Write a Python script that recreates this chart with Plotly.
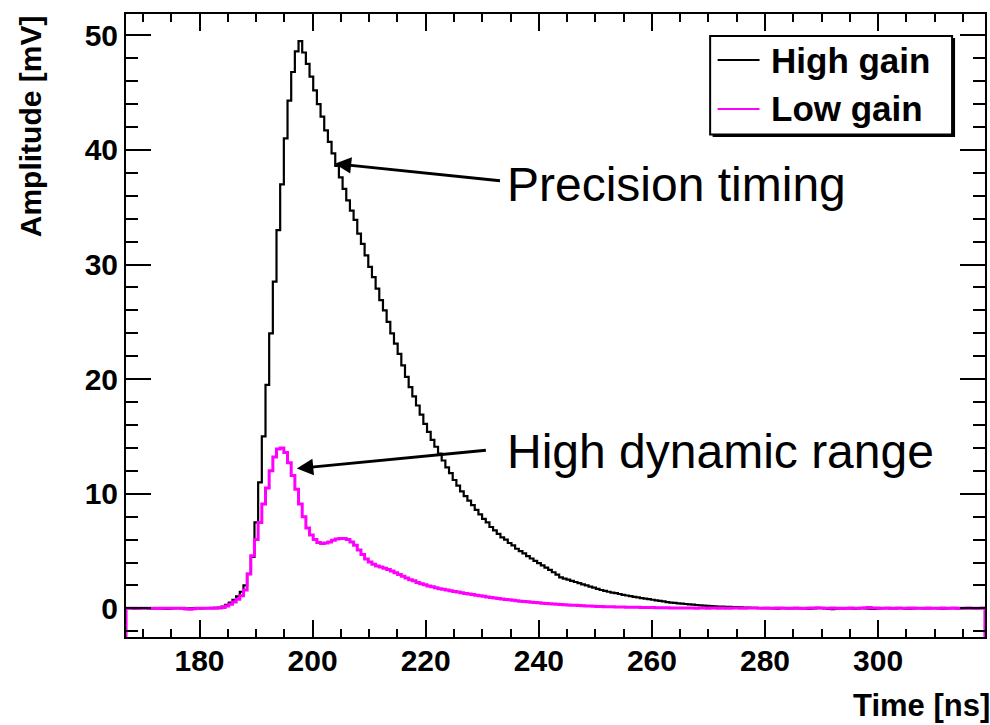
import plotly.graph_objects as go

# ---------------- data ----------------
X_MIN, X_MAX = 167.0, 318.9          # time axis range [ns]
Y_MIN, Y_MAX = -2.5, 51.86           # amplitude axis range [mV]

# High gain amplitude per time bin [mV] (234 bins spanning X_MIN..X_MAX)
high_gain = [
    0.02, 0.01, -0.02, 0.0, 0.03, 0.01, -0.02, -0.01, 0.02, 0.0,
    -0.03, -0.04, 0.0, 0.02, 0.01, -0.01, -0.03, 0.0, 0.02, 0.01,
    0.0, 0.02, 0.03, 0.02, 0.04,
    0.07, 0.15, 0.3, 0.5, 0.75, 1.05, 1.45, 2.0, 3.0, 4.5,
    7.5, 11.0, 15.0, 19.5, 24.0, 28.5, 33.0, 37.0, 41.0, 44.3,
    46.8, 48.6, 49.5,
    48.5, 47.5, 46.4, 45.2, 44.0, 42.9, 41.7, 40.7, 39.7, 38.6,
    37.6, 36.6, 35.6, 34.7, 33.9, 32.7, 31.8, 30.8, 29.8, 28.9,
    27.9, 26.9, 26.0, 25.0, 24.0, 23.1,
    22.2, 21.2, 20.2, 19.3, 18.5, 17.7, 16.9, 16.1, 15.4, 14.7,
    14.1, 13.5, 12.9, 12.3, 11.8, 11.2, 10.7, 10.2, 9.8, 9.4,
    9.0, 8.6, 8.2, 7.8, 7.5, 7.1, 6.8, 6.5, 6.2, 6.0,
    5.7, 5.5, 5.2, 5.0, 4.8, 4.55, 4.35, 4.15, 3.95, 3.75,
    3.55, 3.35, 3.15, 2.95, 2.7, 2.6, 2.5, 2.4, 2.3, 2.2,
    2.1, 2.0, 1.9, 1.8, 1.7, 1.6, 1.52, 1.45, 1.38, 1.32,
    1.25, 1.18, 1.12, 1.06, 1.0, 0.95, 0.9, 0.85, 0.8, 0.75,
    0.7, 0.65, 0.6, 0.55, 0.5, 0.47, 0.44, 0.41, 0.38, 0.35,
    0.32, 0.29, 0.26,
    0.24, 0.22, 0.2, 0.18, 0.16, 0.15, 0.13, 0.12, 0.11, 0.1,
    0.08, 0.07, 0.06, 0.05, 0.04, 0.03, 0.02, 0.02,
    0.01, 0.0, -0.02, 0.01, 0.02, 0.0, -0.01, 0.01, 0.0, -0.03,
    -0.05, -0.02, 0.0, 0.02, 0.01, -0.01, -0.04, -0.06, -0.03, 0.0,
    0.01, 0.02, 0.0, -0.02, -0.01, 0.01, 0.0, -0.03, -0.05, -0.02,
    0.0, 0.02, 0.01, -0.01, 0.0, 0.02, 0.01, -0.02, -0.03, 0.0,
    0.01, 0.02, 0.0, -0.01, 0.01, 0.02, 0.0, -0.02, 0.0, 0.01,
    0.02, 0.0, -0.01, 0.01, 0.02, 0.01, 0.0, 0.01, 0.02,
]

# Low gain amplitude per time bin [mV]
low_gain = [
    0.0, 0.01, 0.0, -0.01, 0.01, 0.0, 0.01, 0.0, -0.01, 0.0,
    0.01, 0.0, 0.01, 0.0, 0.0, 0.01, -0.05, -0.08, -0.04, 0.0,
    0.01, 0.0, 0.01, 0.02, 0.01,
    0.03, 0.08, 0.2, 0.35, 0.55, 0.8, 1.1, 1.6, 3.0, 4.6,
    6.0, 7.5, 9.1, 10.5, 12.0, 13.2, 13.9, 14.0, 13.6, 12.7,
    11.6, 10.4, 9.1, 8.0, 7.0, 6.4, 6.0, 5.75, 5.65, 5.7,
    5.8, 5.95, 6.05, 6.1, 6.1, 6.0, 5.8, 5.5, 5.1, 4.7,
    4.3, 4.05, 3.85, 3.7, 3.6, 3.5, 3.4, 3.25, 3.1, 2.95,
    2.8, 2.65, 2.5, 2.4, 2.25, 2.15, 2.05, 1.95, 1.88, 1.8,
    1.72, 1.66, 1.6, 1.54, 1.48, 1.42, 1.36, 1.3, 1.25, 1.2,
    1.15, 1.1, 1.05,
    0.98, 0.94, 0.9, 0.86, 0.82, 0.78, 0.74, 0.7, 0.66, 0.63,
    0.6, 0.57, 0.54, 0.51, 0.48, 0.45, 0.43, 0.4, 0.38, 0.36,
    0.34, 0.32, 0.3, 0.28, 0.26, 0.24, 0.22, 0.21, 0.2, 0.18,
    0.17, 0.16, 0.15, 0.14, 0.13, 0.12, 0.12, 0.11, 0.1, 0.1,
    0.09, 0.09, 0.08,
    0.08, 0.07, 0.07, 0.06, 0.06, 0.05, 0.05, 0.04, 0.04, 0.03,
    0.03, 0.02, 0.04, 0.02, 0.01, 0.03, 0.02, 0.0, 0.02, 0.03,
    0.01, 0.02, 0.0, 0.01, 0.03, 0.02, 0.01, 0.0, 0.02, 0.04,
    0.02, 0.01, 0.0, 0.02, 0.01, 0.0, 0.02, 0.03, 0.01, 0.0,
    0.01, 0.02, 0.0, -0.01, 0.01, 0.02, 0.04, 0.06, 0.03, 0.01,
    0.0, 0.02, 0.01, 0.0, -0.01, 0.01, 0.02, 0.0, 0.01, 0.03,
    0.05, 0.07, 0.04, 0.02, 0.0, 0.01, 0.02, 0.01, 0.0, 0.02,
    0.01, 0.0, 0.02, 0.03, 0.01, 0.0, 0.01, 0.02, 0.01, 0.0,
    0.01, 0.02, 0.0, 0.01, 0.02, 0.01, 0.0, 0.01, 0.02, 0.01,
    0.0, 0.01, 0.02,
]

series_names = ["High gain", "Low gain"]
annotation_texts = ["Precision timing", "High dynamic range"]
x_title = "Time [ns]"
y_title = "Amplitude [mV]"

# ---------------- styling ----------------
FONT = "Liberation Sans, Arial, Helvetica, sans-serif"
COL_HG = "#000000"
COL_LG = "#ff00ff"

# plot-area pixel box
W, H = 990, 725
PL, PR, PT, PB = 126, 987, 14, 637


def fx(px):
    return (px - PL) / (PR - PL)


def fy(py):
    return (PB - py) / (PB - PT)


def hist_path(vals):
    n = len(vals)
    bw = (X_MAX - X_MIN) / n
    edges = [X_MIN + i * bw for i in range(n + 1)]
    xs = [edges[0]] + edges[:n] + [edges[n], edges[n]]
    ys = [Y_MIN] + list(vals) + [vals[-1], Y_MIN]
    return xs, ys


assert len(high_gain) == len(low_gain)

fig = go.Figure()
for vals, name, col, lw in [(high_gain, series_names[0], COL_HG, 2.2),
                            (low_gain, series_names[1], COL_LG, 3)]:
    xs, ys = hist_path(vals)
    fig.add_trace(go.Scatter(x=xs, y=ys, mode="lines", name=name,
                             line=dict(color=col, width=lw, shape="hv"),
                             showlegend=False, hoverinfo="skip"))

tickfont = dict(family=FONT, size=30, color="black", weight="bold")

fig.update_xaxes(range=[X_MIN, X_MAX], showgrid=False, zeroline=False,
                 showline=True, linecolor="black", linewidth=2, mirror="ticks",
                 ticks="inside", ticklen=17, tickwidth=2, tickcolor="black",
                 tick0=0, dtick=20, tickfont=tickfont, ticklabelstandoff=-4,
                 minor=dict(ticks="inside", ticklen=8, tickwidth=2,
                            tickcolor="black", dtick=5, tick0=0, showgrid=False))
fig.update_yaxes(range=[Y_MIN, Y_MAX], showgrid=False, zeroline=False,
                 showline=True, linecolor="black", linewidth=2, mirror="ticks",
                 ticks="inside", ticklen=25, tickwidth=2, tickcolor="black",
                 tick0=0, dtick=10, tickfont=tickfont,
                 minor=dict(ticks="inside", ticklen=12, tickwidth=2,
                            tickcolor="black", dtick=2, tick0=0, showgrid=False))

annotations = []
# axis titles (ROOT style, aligned to the axis ends)
annotations.append(dict(text=x_title, xref="paper", yref="paper",
                        x=fx(994), y=fy(705), xanchor="right", yanchor="middle",
                        showarrow=False,
                        font=dict(family=FONT, size=31, color="black", weight="bold")))
annotations.append(dict(text=y_title, xref="paper", yref="paper",
                        x=fx(30), y=fy(126), xanchor="center", yanchor="middle",
                        textangle=-90, showarrow=False,
                        font=dict(family=FONT, size=30, color="black", weight="bold")))

# arrows
for (tx, ty, ax_, ay_) in [(203.9, 38.8, 233.4, 37.3), (197.2, 12.2, 230.9, 13.8)]:
    annotations.append(dict(x=tx, y=ty, ax=ax_, ay=ay_, xref="x", yref="y",
                            axref="x", ayref="y", text="", showarrow=True,
                            arrowhead=2, arrowsize=1.1, arrowwidth=3,
                            arrowcolor="black", standoff=0))
# arrow labels
for txt, py in [(annotation_texts[0], 185), (annotation_texts[1], 451)]:
    annotations.append(dict(text=txt, xref="paper", yref="paper",
                            x=fx(506), y=fy(py), xanchor="left", yanchor="middle",
                            showarrow=False,
                            font=dict(family=FONT, size=48, color="black")))

# legend (ROOT TLegend look, with shadow)
shapes = [
    dict(type="rect", xref="paper", yref="paper", x0=fx(714), x1=fx(957),
         y0=fy(137), y1=fy(38), fillcolor="black", line=dict(width=0), layer="above"),
    dict(type="rect", xref="paper", yref="paper", x0=fx(711.5), x1=fx(954),
         y0=fy(134.5), y1=fy(36), fillcolor="white",
         line=dict(color="black", width=2), layer="above"),
    dict(type="line", xref="paper", yref="paper", x0=fx(719), x1=fx(761),
         y0=fy(60), y1=fy(60), line=dict(color=COL_HG, width=2), layer="above"),
    dict(type="line", xref="paper", yref="paper", x0=fx(719), x1=fx(761),
         y0=fy(109), y1=fy(109), line=dict(color=COL_LG, width=2), layer="above"),
]
for txt, py in [(series_names[0], 60), (series_names[1], 109)]:
    annotations.append(dict(text=txt, xref="paper", yref="paper",
                            x=fx(770), y=fy(py), xanchor="left", yanchor="middle",
                            showarrow=False,
                            font=dict(family=FONT, size=35, color="black", weight="bold")))

fig.update_layout(width=W, height=H, autosize=False,
                  margin=dict(l=PL, r=W - PR, t=PT, b=H - PB, pad=0),
                  paper_bgcolor="white", plot_bgcolor="white",
                  showlegend=False, annotations=annotations, shapes=shapes,
                  font=dict(family=FONT, color="black"))

fig.write_html("out.html")
